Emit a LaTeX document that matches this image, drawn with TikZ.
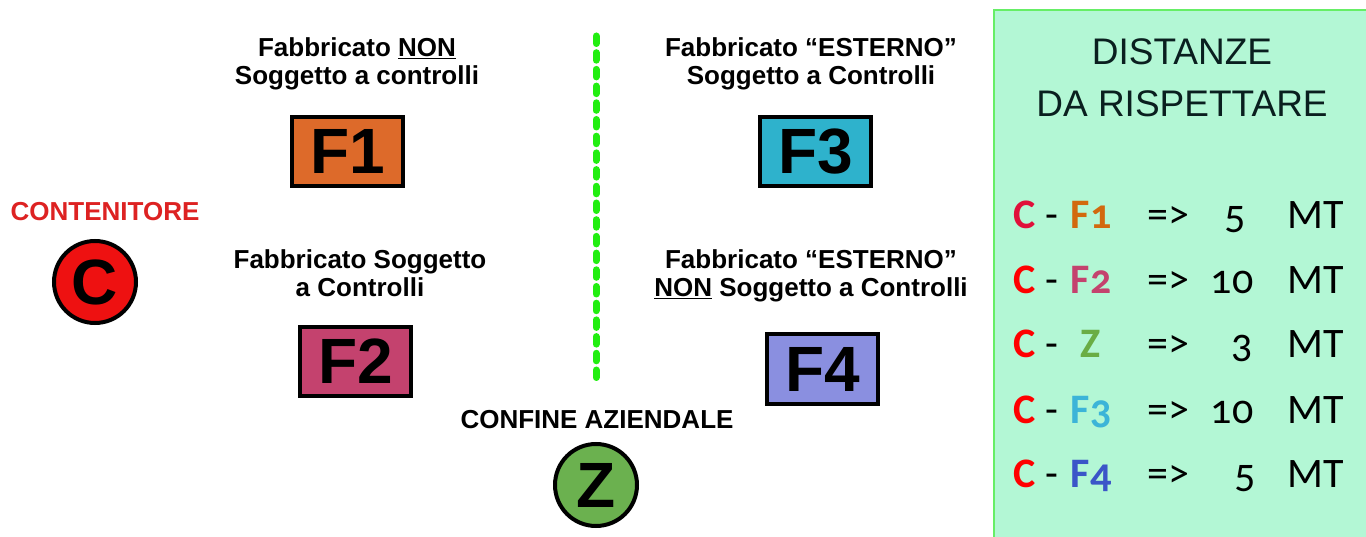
\documentclass[tikz,border=0pt]{standalone}
\usepackage{fontspec}
\setmainfont{Liberation Sans}
\newfontfamily\calib[Numbers=OldStyle]{Carlito}
\definecolor{panelfill}{HTML}{B3F7D5}
\definecolor{panelline}{HTML}{66EE66}
\definecolor{dotgreen}{HTML}{22EE11}
\definecolor{fone}{HTML}{DD6A2A}
\definecolor{ftwo}{HTML}{C4426E}
\definecolor{fthree}{HTML}{2EB2CC}
\definecolor{ffour}{HTML}{8A8FE0}
\definecolor{zfill}{HTML}{6BB14F}
\definecolor{cfill}{HTML}{EE1111}
\definecolor{redtxt}{HTML}{DD2222}
\definecolor{darktxt}{HTML}{0A1F1F}
\definecolor{tcone}{HTML}{E0103A}
\definecolor{tcred}{HTML}{FF0000}
\definecolor{tfone}{HTML}{D2690E}
\definecolor{tftwo}{HTML}{C4426E}
\definecolor{tz}{HTML}{6AAD45}
\definecolor{tfthree}{HTML}{3CB4D8}
\definecolor{tffour}{HTML}{3B55C8}
\tikzset{
  fbox/.style={draw=black, line width=4pt, minimum width=111pt, minimum height=69pt, inner sep=0pt, font=\fontsize{64}{64}\selectfont\bfseries},
  disc/.style={circle, draw=black, line width=4pt, minimum size=82pt, inner sep=0pt, font=\fontsize{64}{64}\selectfont\bfseries},
  lbl/.style={align=center, font=\fontsize{26}{28}\selectfont\bfseries, inner sep=0pt},
  trow/.style={anchor=base, inner sep=0pt, font=\calib\fontsize{42}{42}\selectfont},
}
\begin{document}
\begin{tikzpicture}[x=1pt,y=-1pt]
\useasboundingbox (0,0) rectangle (1366,537);
% panel
\path[fill=panelfill, draw=panelline, line width=1.5pt] (994,10) rectangle (1370,540);
\node[inner sep=0pt, text=darktxt, align=center, font=\fontsize{37}{52}\selectfont] (title) at (1182,78) {DISTANZE\\DA RISPETTARE};
% dotted border line
\coordinate (lt) at (596,36);
\coordinate (lb) at (596,384);
\draw[dotgreen, line width=7pt, line cap=round, dash pattern=on 7.5pt off 9.2pt] (lt) -- (lb);
% labels
\node[lbl] (l1) at (357,64) {Fabbricato \underline{NON}\\Soggetto a controlli};
\node[lbl] (l3) at (811,64) {Fabbricato “ESTERNO”\\Soggetto a Controlli};
\node[lbl] (l2) at (360,273) {Fabbricato Soggetto\\a Controlli};
\node[lbl] (l4) at (811,276) {Fabbricato “ESTERNO”\\\underline{NON} Soggetto a Controlli};
\node[lbl] (lz) at (597,420) {CONFINE AZIENDALE};
\node[lbl, text=redtxt] (lc) at (105,212) {CONTENITORE};
% boxes
\node[fbox, fill=fone] (f1) at (347.5,151.5) {F1};
\node[fbox, fill=ftwo] (f2) at (355.5,361.5) {F2};
\node[fbox, fill=fthree] (f3) at (815.5,151.5) {F3};
\node[fbox, fill=ffour] (f4) at (822.5,369) {F4};
% circles
\node[disc, fill=cfill] (c) at (95,282) {C};
\node[disc, fill=zfill] (z) at (596,485) {Z};
% table
\foreach \y/\cc/\fc/\ft/\num/\nx in {229/tcone/tfone/F1/5/1235, 294/tcred/tftwo/F2/10/1232, 358/tcred/tz/Z/3/1242, 423/tcred/tfthree/F3/10/1232, 487/tcred/tffour/F4/5/1245}{
  \node[trow, text=\cc, font=\calib\fontsize{42}{42}\selectfont\bfseries] at (1025,\y) {C};
  \node[trow] at (1052,\y) {-};
  \node[trow, text=\fc, font=\calib\fontsize{42}{42}\selectfont\bfseries] at (1091,\y) {\ft};
  \node[trow] at (1168,\y) {=>};
  \node[trow] at (\nx,\y) {\num};
  \node[trow] at (1316,\y) {MT};
}
\end{tikzpicture}
\end{document}
